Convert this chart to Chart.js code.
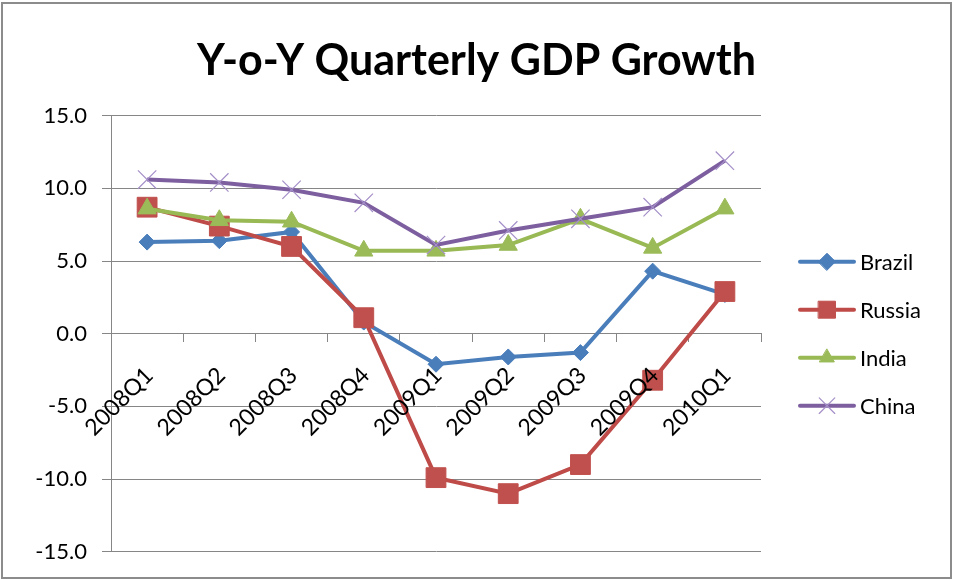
<!DOCTYPE html>
<html>
<head>
<meta charset="utf-8">
<script src="https://cdn.jsdelivr.net/npm/chart.js@4/dist/chart.umd.min.js"></script>
<style>
  html, body { margin: 0; padding: 0; background: #fff; }
  #wrap { width: 953px; height: 580px; }
</style>
</head>
<body>
<div id="wrap"><canvas id="myChart" width="953" height="580"></canvas></div>
<script>
const categories = ['2008Q1', '2008Q2', '2008Q3', '2008Q4', '2009Q1', '2009Q2', '2009Q3', '2009Q4', '2010Q1'];
const brazil = [6.3, 6.4, 7.0, 0.8, -2.1, -1.6, -1.3, 4.3, 2.7];
const russia = [8.7, 7.4, 6.0, 1.1, -9.9, -11.0, -9.0, -3.2, 2.9];
const india = [8.6, 7.8, 7.7, 5.7, 5.7, 6.1, 7.9, 5.9, 8.6];
const china = [10.6, 10.4, 9.9, 9.0, 6.1, 7.1, 7.9, 8.7, 11.9];
const yTicks = [-15, -10, -5, 0, 5, 10, 15];

const FONT = 'Lato, "Open Sans", sans-serif';
const gridGray = '#868686';

const data = {
    labels: categories,
    datasets: [{
        label: 'Brazil',
        data: brazil,
        borderColor: '#4a7ebb',
        backgroundColor: '#4a7ebb',
        pointStyle: 'rectRot',
        pointRadius: 8,
        order: 4
    }, {
        label: 'Russia',
        data: russia,
        borderColor: '#be4b48',
        backgroundColor: '#c0504d',
        pointStyle: 'rect',
        pointRadius: 14,
        order: 3
    }, {
        label: 'India',
        data: india,
        borderColor: '#98b954',
        backgroundColor: '#9bbb59',
        pointStyle: 'triangle',
        pointRadius: 10.5,
        order: 2
    }, {
        label: 'China',
        data: china,
        borderColor: '#7d5fa0',
        backgroundColor: '#7d5fa0',
        pointStyle: 'crossRot',
        pointRadius: 13,
        pointBorderColor: '#a48fc8',
        pointBorderWidth: 1.2,
        order: 1
    }]
};
data.datasets.forEach(function(ds) {
    ds.borderWidth = 4;
    ds.tension = 0;
    ds.pointHoverRadius = ds.pointRadius;
    if (!ds.pointBorderColor) {
        ds.pointBorderColor = ds.backgroundColor;
        ds.pointBorderWidth = 1;
    }
});

// frame round the whole chart
const framePlugin = {
    id: 'frame',
    beforeDraw(chart) {
        const ctx = chart.ctx;
        ctx.save();
        ctx.fillStyle = '#fff';
        ctx.fillRect(0, 0, chart.width, chart.height);
        ctx.strokeStyle = '#8c8c8c';
        ctx.lineWidth = 2;
        ctx.strokeRect(2, 3, chart.width - 4, chart.height - 5);
        ctx.restore();
    }
};

// legend drawn like the spreadsheet one: line with the marker on it
const sideLegend = {
    id: 'sideLegend',
    afterDraw(chart) {
        const ctx = chart.ctx;
        const area = chart.chartArea;
        const mid = (area.top + area.bottom) / 2;
        const n = chart.data.datasets.length;
        ctx.save();
        chart.data.datasets.forEach(function(ds, i) {
            const y = mid + (i - (n - 1) / 2) * 48;
            const x0 = area.right + 39, x1 = area.right + 93;
            ctx.strokeStyle = ds.borderColor;
            ctx.lineWidth = 4;
            ctx.lineCap = 'round';
            ctx.beginPath();
            ctx.moveTo(x0, y);
            ctx.lineTo(x1, y);
            ctx.stroke();
            ctx.fillStyle = ds.backgroundColor;
            ctx.strokeStyle = ds.pointBorderColor;
            ctx.lineWidth = ds.pointBorderWidth;
            const r = ds.pointStyle === 'rect' ? 12 : (ds.pointStyle === 'crossRot' ? 11 : 8.5);
            Chart.helpers.drawPoint(ctx, { pointStyle: ds.pointStyle, radius: r, rotation: 0, borderWidth: ds.pointBorderWidth }, (x0 + x1) / 2, y);
            ctx.fillStyle = '#000';
            ctx.font = '22px ' + FONT;
            ctx.textAlign = 'left';
            ctx.textBaseline = 'middle';
            ctx.fillText(ds.label, x1 + 6, y + 1);
        });
        ctx.restore();
    }
};

const config = {
    type: 'line',
    data: data,
    options: {
        responsive: false,
        animation: false,
        layout: {
            padding: { left: 0, right: 0, top: 0, bottom: 18 }
        },
        scales: {
            x: {
                type: 'category',
                position: { y: 0 },
                offset: true,
                grid: {
                    offset: true,
                    drawOnChartArea: false,
                    color: gridGray,
                    tickLength: 8
                },
                border: { display: true, color: gridGray, width: 1 },
                ticks: {
                    z: 1,
                    minRotation: 45,
                    maxRotation: 45,
                    autoSkip: false,
                    padding: 20,
                    labelOffset: 2,
                    color: '#000',
                    font: { family: FONT, size: 23 }
                }
            },
            y: {
                min: -15,
                max: 15,
                afterFit(scale) { scale.width = 111; },
                afterBuildTicks(scale) {
                    scale.ticks = yTicks.map(function(v) { return { value: v }; });
                },
                grid: {
                    color: gridGray,
                    tickLength: 9
                },
                border: { display: true, color: gridGray, width: 1 },
                ticks: {
                    padding: 15,
                    color: '#000',
                    font: { family: FONT, size: 22 },
                    callback: function(v) { return Number(v).toFixed(1); }
                }
            },
            // empty box on the right that keeps room for the legend
            legendRoom: {
                type: 'linear',
                position: 'right',
                display: true,
                afterFit(scale) { scale.width = 192; },
                grid: { display: false, drawOnChartArea: false },
                border: { display: false },
                ticks: { display: false }
            }
        },
        plugins: {
            legend: { display: false },
            tooltip: { enabled: false },
            title: {
                display: true,
                text: 'Y-o-Y Quarterly GDP Growth',
                color: '#000',
                font: { family: FONT, size: 43, weight: 'bold' },
                padding: { top: 35, bottom: 29 }
            }
        }
    },
    plugins: [framePlugin, sideLegend]
};

const myChart = new Chart(
    document.getElementById('myChart'),
    config
);
</script>
</body>
</html>
